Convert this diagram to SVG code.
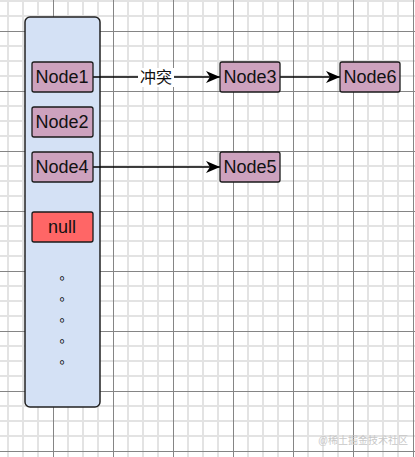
<svg xmlns="http://www.w3.org/2000/svg" width="415" height="457" viewBox="0 0 415 457">
<style>
.node rect{fill:#cda2be;stroke:#1a1a1a;stroke-width:1.3}
.null rect{fill:#ff6666;stroke:#1a1a1a;stroke-width:1.3}
.lbl{font-family:"Liberation Sans",Arial,sans-serif;font-size:18px;fill:#111;text-anchor:middle;dominant-baseline:central}
.edge{stroke:#000;stroke-width:1.5;fill:none}
.cjk{font-family:"Liberation Sans","Noto Sans CJK SC",sans-serif}
</style>
<defs>
<pattern id="grid" x="-7" y="-29" width="60" height="60" patternUnits="userSpaceOnUse">
<g stroke="#e3e3e3" stroke-width="2">
<line x1="15" y1="0" x2="15" y2="60"/><line x1="30" y1="0" x2="30" y2="60"/><line x1="45" y1="0" x2="45" y2="60"/>
<line x1="0" y1="15" x2="60" y2="15"/><line x1="0" y1="30" x2="60" y2="30"/><line x1="0" y1="45" x2="60" y2="45"/>
</g>
<g stroke="#858585" stroke-width="1">
<line x1="0.5" y1="0" x2="0.5" y2="60"/><line x1="0" y1="0.5" x2="60" y2="0.5"/>
</g>
</pattern>
<marker id="arr" markerUnits="userSpaceOnUse" markerWidth="14" markerHeight="12" viewBox="0 0 14 12" refX="14" refY="6" orient="auto">
<path d="M0,0 L14,6 L0,12 L4,6 Z" fill="#000"/>
</marker>
</defs>
<rect width="415" height="457" fill="#fff"/>
<rect width="415" height="457" fill="url(#grid)"/>

<g id="container">
<rect x="25" y="17" width="75" height="390" rx="5" fill="#d4e1f5" stroke="#222" stroke-width="1.5"/>
</g>

<g id="connectors">
<line class="edge" x1="93" y1="77" x2="220" y2="77" marker-end="url(#arr)"/>
<rect x="138" y="68" width="36" height="19" fill="#fff"/>
<text class="lbl cjk" x="156" y="77" style="font-size:16px">冲突</text>
<line class="edge" x1="280" y1="77" x2="340" y2="77" marker-end="url(#arr)"/>
<line class="edge" x1="93" y1="167" x2="220" y2="167" marker-end="url(#arr)"/>
</g>

<g id="node1" class="node"><rect x="32" y="62" width="61" height="30" rx="2"/><text class="lbl" x="62" y="77">Node1</text></g>
<g id="node2" class="node"><rect x="32" y="107" width="61" height="30" rx="2"/><text class="lbl" x="62" y="122">Node2</text></g>
<g id="node4" class="node"><rect x="32" y="152" width="61" height="30" rx="2"/><text class="lbl" x="62" y="167">Node4</text></g>
<g id="null" class="null"><rect x="32" y="212" width="61" height="30" rx="2"/><text class="lbl" x="62" y="227">null</text></g>
<g id="node3" class="node"><rect x="220" y="62" width="60" height="30" rx="2"/><text class="lbl" x="250" y="77">Node3</text></g>
<g id="node6" class="node"><rect x="340" y="62" width="60" height="30" rx="2"/><text class="lbl" x="370" y="77">Node6</text></g>
<g id="node5" class="node"><rect x="220" y="152" width="60" height="30" rx="2"/><text class="lbl" x="250" y="167">Node5</text></g>

<g id="dots" font-family="'Noto Sans CJK TC',sans-serif" font-size="13" fill="#000" text-anchor="middle">
<text x="62" y="282.5">。</text>
<text x="62" y="303.5">。</text>
<text x="62" y="324.5">。</text>
<text x="62" y="345.5">。</text>
<text x="62" y="366.5">。</text>
</g>

<text x="363" y="444" font-family="'Liberation Sans','Noto Sans CJK SC',sans-serif" font-size="10" fill="#c8c8c8" text-anchor="middle">@稀土掘金技术社区</text>
</svg>
